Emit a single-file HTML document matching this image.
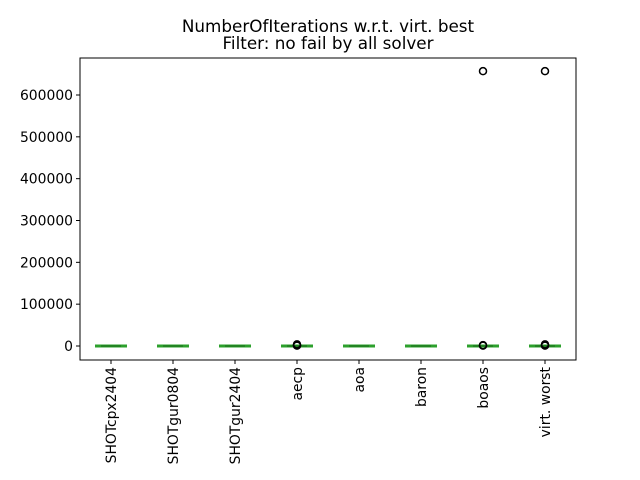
<!DOCTYPE html>
<html><head><meta charset="utf-8"><style>
body{margin:0;background:#fff;}
svg{display:block;font-family:"DejaVu Sans","Liberation Sans",sans-serif;}
</style></head><body>
<svg id="chart" width="640" height="480">
<text x="328" y="32" text-anchor="middle" font-size="16.8">NumberOfIterations w.r.t. virt. best</text>
<text x="328" y="49" text-anchor="middle" font-size="16.8">Filter: no fail by all solver</text>
<g id="marks"></g>
<rect x="80" y="58" width="496" height="302" fill="none" stroke="#000" stroke-width="1"/>
</svg>
<script>
const categories=["SHOTcpx2404","SHOTgur0804","SHOTgur2404","aecp","aoa","baron","boaos","virt. worst"];
const medians=[0,0,0,0,0,0,0,0];
const nearOutliers=[[],[],[],[1000,2000,4000],[],[],[1000,2000],[1000,2000,4000]];
const farOutliers=[[],[],[],[],[],[],[657000],[657000]];
const yTicks=[0,100000,200000,300000,400000,500000,600000];
const L=80,R=576,T=58,B=360;
function y(v){return 346-v*(251/600000);}
function x(i){return L+(i+0.5)*(R-L)/categories.length;}
const g=document.getElementById('marks');
const NS="http://www.w3.org/2000/svg";
function mk(t,a,p){const e=document.createElementNS(NS,t);for(const k in a)e.setAttribute(k,a[k]);(p||g).appendChild(e);return e;}
yTicks.forEach(v=>{
  const tk=mk('line',{x1:L-4,x2:L,y1:y(v),y2:y(v),stroke:'#000'});
  
  
  const t=mk('text',{x:L-7,y:y(v)+5,'text-anchor':'end','font-size':'13.9'});
  t.textContent=v;
  
  
});
categories.forEach((c,i)=>{
  const cx=x(i);
  const tk=mk('line',{x1:cx,x2:cx,y1:B,y2:B+4,stroke:'#000'});
  
  
  const t=mk('text',{x:0,y:0,'font-size':'13.9',transform:`translate(${cx+5},${B+7}) rotate(-90)`,'text-anchor':'end'});
  t.textContent=c;
  
  
  const b=mk('line',{x1:cx-16,x2:cx+16,y1:y(medians[i]),y2:y(medians[i]),stroke:'#2ca02c','stroke-width':3});
  
  
  const m=mk('line',{x1:cx-10,x2:cx+10,y1:y(medians[i]),y2:y(medians[i]),stroke:'#1f7a1f','stroke-width':1.5});
  
  
  nearOutliers[i].concat(farOutliers[i]).forEach(v=>{
    const o=mk('circle',{cx:cx,cy:y(v),r:3.5,fill:'none',stroke:'#000','stroke-width':1.5});
    
    
  });
});
</script>
</body></html>
